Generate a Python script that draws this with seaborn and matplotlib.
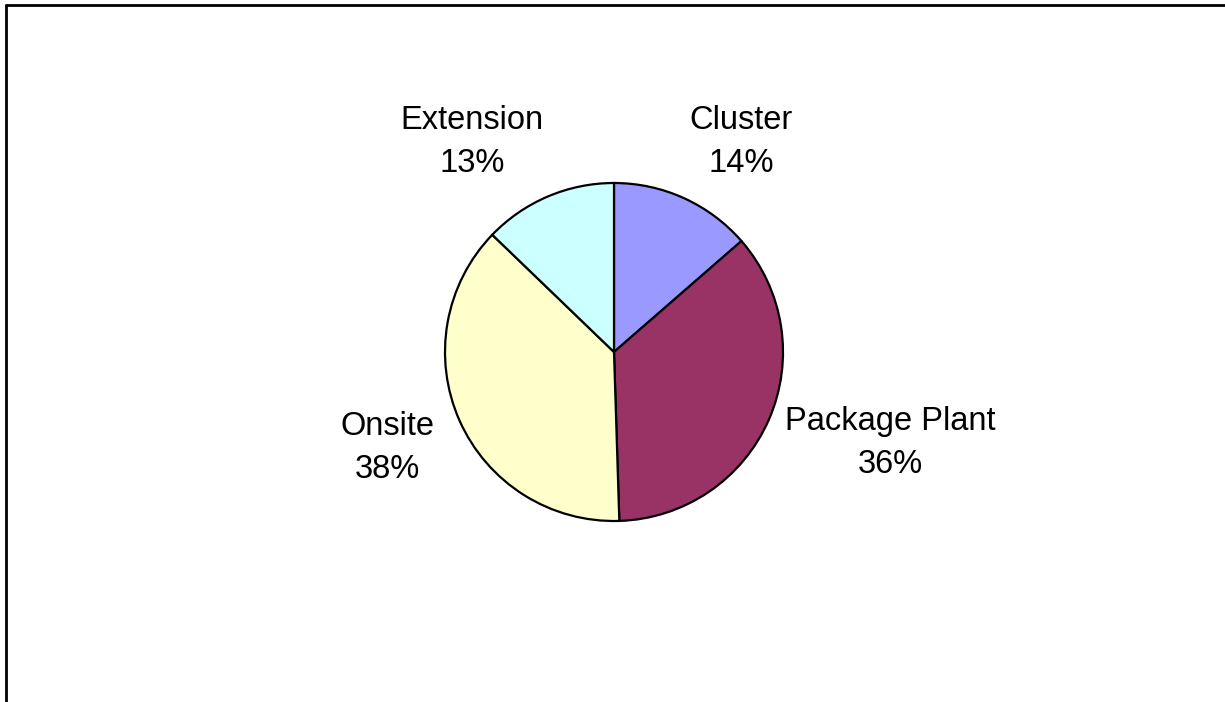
import matplotlib
matplotlib.use("Agg")
import matplotlib.pyplot as plt
import seaborn as sns
from matplotlib.lines import Line2D

sns.set_theme(style="white")
plt.rcParams['font.family'] = ['Liberation Sans', 'DejaVu Sans']

categories = ["Cluster", "Package Plant", "Onsite", "Extension"]
values = [13.6, 35.9, 37.7, 12.8]
pct_labels = ["14%", "36%", "38%", "13%"]
colors = ["#9999FF", "#993366", "#FFFFCC", "#CCFFFF"]

W, H = 1225, 702
fig = plt.figure(figsize=(W / 100, H / 100), dpi=100)
fig.patch.set_facecolor("white")

cx, cy, r = 614, 352, 169
ax = fig.add_axes([(cx - r) / W, (H - cy - r) / H, 2 * r / W, 2 * r / H])
ax.pie(values, colors=colors, startangle=90, counterclock=False, radius=1,
       wedgeprops=dict(edgecolor="black", linewidth=1.6))
ax.set_xlim(-1.0, 1.0)
ax.set_ylim(-1.0, 1.0)
ax.set_aspect("equal")
ax.axis("off")

# label center x and baselines of the two lines, in pixels from top-left
label_pos = [(741, 129, 172), (890, 430, 473), (387, 435, 478), (472, 129, 172)]
for cat, pct, (px, b1, b2) in zip(categories, pct_labels, label_pos):
    fig.text(px / W, 1 - b1 / H, cat, ha="center", va="baseline",
             fontsize=23.5, color="black")
    fig.text(px / W, 1 - b2 / H, pct, ha="center", va="baseline",
             fontsize=23.5, color="black")

# frame (left and top lines)
fig.add_artist(Line2D([6 / W, 6 / W], [0, 1 - 5 / H], transform=fig.transFigure,
                      color="black", linewidth=2))
fig.add_artist(Line2D([6 / W, 1], [1 - 5 / H, 1 - 5 / H], transform=fig.transFigure,
                      color="black", linewidth=2))

fig.savefig("out.png", dpi=100, facecolor="white")
